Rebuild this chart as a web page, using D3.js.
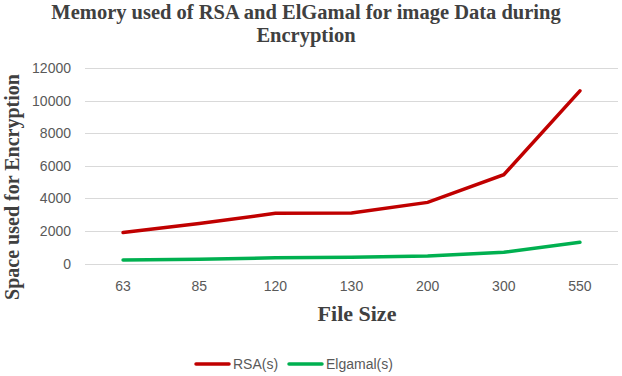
<!DOCTYPE html>
<html>
<head>
<meta charset="utf-8">
<script src="https://cdn.jsdelivr.net/npm/d3@7"></script>
<style>
  body { margin: 0; background: #fff; }
  .grid line { stroke: #d9d9d9; stroke-width: 1px; shape-rendering: crispEdges; }
  .grid path { display: none; }
  .tick text { fill: #595959; font-family: "Liberation Sans", Arial, sans-serif; font-size: 14px; }
  .serif { font-family: "Liberation Serif", "Times New Roman", serif; font-weight: bold; fill: #404040; }
</style>
</head>
<body>
<svg width="622" height="376"></svg>
<script>
const fileSizes = ["63", "85", "120", "130", "200", "300", "550"];
const rsa = [1900, 2450, 3080, 3100, 3750, 5450, 10600];
const elgamal = [215, 260, 350, 380, 460, 690, 1300];
const yTicks = [0, 2000, 4000, 6000, 8000, 10000, 12000];

const svg = d3.select("svg");
const plotLeft = 85, plotRight = 618, plotTop = 68, plotBottom = 263.5;

const x = d3.scaleBand().domain(fileSizes).range([plotLeft, plotRight]);
const y = d3.scaleLinear().domain([0, 12000]).range([plotBottom, plotTop]);

// grid
svg.append("g").attr("class", "grid")
  .attr("transform", `translate(${plotLeft},0)`)
  .call(d3.axisLeft(y).tickValues(yTicks).tickSize(-(plotRight - plotLeft)).tickFormat(""));

// y labels
svg.append("g").attr("class", "tick")
  .selectAll("text").data(yTicks).enter().append("text")
  .attr("x", 71).attr("y", d => y(d) + 5)
  .attr("text-anchor", "end").text(d => d);

// x labels
svg.append("g").attr("class", "tick")
  .selectAll("text").data(fileSizes).enter().append("text")
  .attr("x", d => x(d) + x.bandwidth() / 2).attr("y", 291)
  .attr("text-anchor", "middle").text(d => d);

const line = d3.line().x((d, i) => x(fileSizes[i]) + x.bandwidth() / 2).y(d => y(d));

svg.append("path").datum(rsa).attr("d", line)
  .attr("fill", "none").attr("stroke", "#c00000").attr("stroke-width", 3.5).attr("stroke-linecap", "round");
svg.append("path").datum(elgamal).attr("d", line)
  .attr("fill", "none").attr("stroke", "#00b050").attr("stroke-width", 3.5).attr("stroke-linecap", "round");

// title
svg.append("text").attr("class", "serif").attr("x", 306).attr("y", 19)
  .attr("text-anchor", "middle").style("font-size", "20.5px")
  .text("Memory used of RSA and ElGamal for image Data during");
svg.append("text").attr("class", "serif").attr("x", 306).attr("y", 42)
  .attr("text-anchor", "middle").style("font-size", "20.5px")
  .text("Encryption");

// axis titles
svg.append("text").attr("class", "serif")
  .attr("transform", "translate(19,187) rotate(-90)")
  .attr("text-anchor", "middle").style("font-size", "20px")
  .text("Space used for Encryption");
svg.append("text").attr("class", "serif").attr("x", 357).attr("y", 321)
  .attr("text-anchor", "middle").style("font-size", "22px")
  .text("File Size");

// legend
const legend = [{ name: "RSA(s)", color: "#c00000", x: 196 }, { name: "Elgamal(s)", color: "#00b050", x: 289 }];
const lg = svg.append("g");
lg.selectAll("line").data(legend).enter().append("line")
  .attr("x1", d => d.x).attr("x2", d => d.x + 33)
  .attr("y1", 364).attr("y2", 364)
  .attr("stroke", d => d.color).attr("stroke-width", 3.5).attr("stroke-linecap", "round");
lg.selectAll("text").data(legend).enter().append("text")
  .attr("x", d => d.x + 37).attr("y", 369)
  .style("fill", "#595959").style("font-family", "'Liberation Sans', Arial, sans-serif").style("font-size", "14px")
  .text(d => d.name);
</script>
</body>
</html>
